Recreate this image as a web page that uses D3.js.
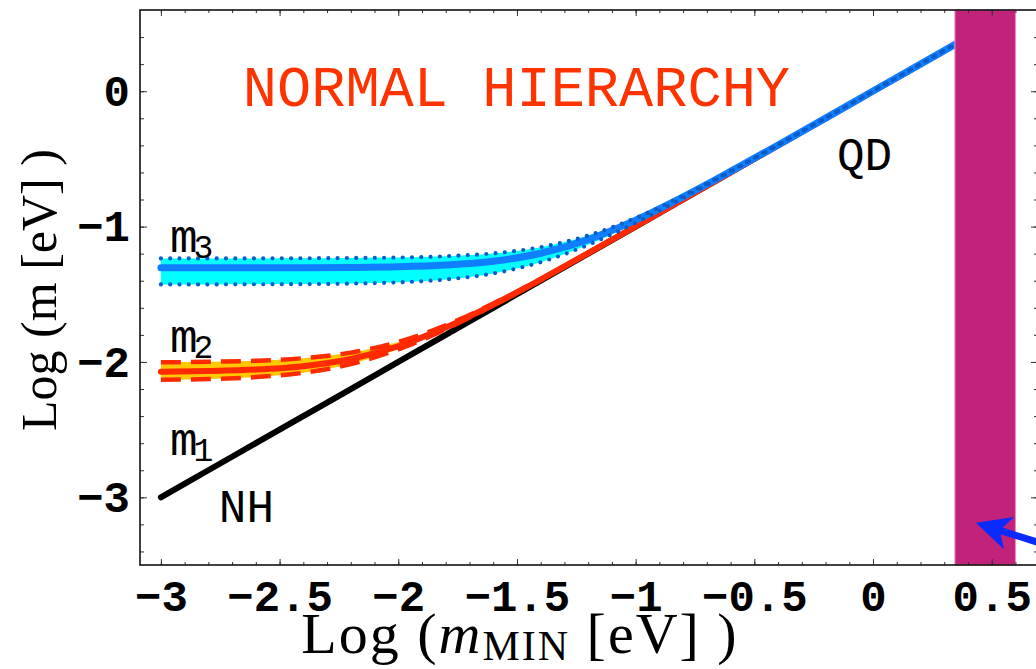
<!DOCTYPE html>
<html>
<head>
<meta charset="utf-8">
<script src="https://cdn.jsdelivr.net/npm/d3@7"></script>
<style>
  body { margin: 0; background: #fff; }
  svg { display: block; }
</style>
</head>
<body>
<svg id="chart" width="1036" height="669"></svg>
<script>
// log10 of the lightest mass (eV), read along the x axis
var mMin = [-3, -2.8, -2.6, -2.4, -2.2, -2.0, -1.8, -1.6, -1.4, -1.2, -1.0, -0.8, -0.6, -0.4, -0.2, 0, 0.2, 0.345];

// log10 of the masses (eV) at those points
var m1   = [-3, -2.8, -2.6, -2.4, -2.2, -2.0, -1.8, -1.6, -1.4, -1.2, -1.0, -0.8, -0.6, -0.4, -0.2, 0, 0.2, 0.345];
var m2   = [-2.072, -2.067, -2.056, -2.031, -1.978, -1.884, -1.746, -1.577, -1.391, -1.196, -0.999, -0.799, -0.600, -0.400, -0.200, 0.000, 0.200, 0.345];
var m2Hi = [-2.003, -1.999, -1.991, -1.972, -1.931, -1.852, -1.729, -1.569, -1.387, -1.195, -0.998, -0.799, -0.600, -0.400, -0.200, 0.000, 0.200, 0.345];
var m2Lo = [-2.132, -2.126, -2.112, -2.080, -2.015, -1.907, -1.758, -1.582, -1.393, -1.197, -0.999, -0.800, -0.600, -0.400, -0.200, 0.000, 0.200, 0.345];
var m3   = [-1.305, -1.305, -1.305, -1.304, -1.302, -1.297, -1.284, -1.256, -1.197, -1.096, -0.952, -0.780, -0.592, -0.397, -0.199, 0.001, 0.200, 0.345];
var m3Hi = [-1.235, -1.235, -1.235, -1.234, -1.232, -1.229, -1.219, -1.198, -1.152, -1.066, -0.937, -0.773, -0.589, -0.395, -0.198, 0.001, 0.200, 0.345];
var m3Lo = [-1.427, -1.427, -1.426, -1.425, -1.421, -1.412, -1.391, -1.346, -1.263, -1.135, -0.972, -0.788, -0.595, -0.398, -0.199, 0.000, 0.200, 0.345];

// excluded region (purple band) in log10 m_MIN
var bandRange = [0.345, 0.6];

// tick labels
var xTickLabels = [-3, -2.5, -2, -1.5, -1, -0.5, 0, 0.5];
var yTickLabels = [0, -1, -2, -3];

// text annotations, placed in data coordinates
var notes = [
  {text: "m", sub: "3", x: -2.962, y: -1.19},
  {text: "m", sub: "2", x: -2.962, y: -1.929},
  {text: "m", sub: "1", x: -2.962, y: -2.69},
  {text: "NH", x: -2.756, y: -3.186},
  {text: "QD", x: -0.152, y: -0.584}
];
var title = {text: "NORMAL HIERARCHY", x: -2.655, y: -0.111};

// blue arrow pointing into the band (tip, tail)
var arrowPts = [{x: 0.433, y: -3.188}, {x: 0.872, y: -3.431}];

var svg = d3.select("#chart");
svg.append("rect").attr("width", 1036).attr("height", 669).attr("fill", "#fff");

var pL = 140, pR = 1038, pT = 10, pB = 565;

var x = d3.scaleLinear().domain([-3.088, 0.695]).range([pL, pR]);
var y = d3.scaleLinear().domain([-3.5, 0.6]).range([pB, pT]);

var mono = "'Liberation Mono', 'Courier New', monospace";
var serif = "'Liberation Serif', 'Times New Roman', serif";

function lineOf(vals) {
  return d3.line()
    .x(function(d, i) { return x(mMin[i]); })
    .y(function(d) { return y(d); })
    .curve(d3.curveMonotoneX)(vals);
}
function bandOf(lo, hi) {
  return d3.area()
    .x(function(d, i) { return x(mMin[i]); })
    .y0(function(d, i) { return y(lo[i]); })
    .y1(function(d, i) { return y(hi[i]); })
    .curve(d3.curveMonotoneX)(mMin);
}

var plot = svg.append("g");

// m1: lightest state
plot.append("path").attr("d", lineOf(m1))
  .attr("fill", "none").attr("stroke", "#000").attr("stroke-width", 6).attr("stroke-linecap", "round");

// m2 band
plot.append("path").attr("d", bandOf(m2Lo, m2Hi)).attr("fill", "#ffc800");
[m2Hi, m2Lo].forEach(function(v) {
  plot.append("path").attr("d", lineOf(v))
    .attr("fill", "none").attr("stroke", "#ff2a00").attr("stroke-width", 4.5)
    .attr("stroke-dasharray", "20,10");
});
plot.append("path").attr("d", lineOf(m2))
  .attr("fill", "none").attr("stroke", "#ff2a00").attr("stroke-width", 6).attr("stroke-linecap", "round");

// m3 band
plot.append("path").attr("d", bandOf(m3Lo, m3Hi)).attr("fill", "#00ffff");
plot.append("path").attr("d", lineOf(m3))
  .attr("fill", "none").attr("stroke", "#0f7fff").attr("stroke-width", 7).attr("stroke-linecap", "round");
[m3Hi, m3Lo].forEach(function(v) {
  plot.append("path").attr("d", lineOf(v))
    .attr("fill", "none").attr("stroke", "#0a5cc8").attr("stroke-width", 4.2)
    .attr("stroke-linecap", "round").attr("stroke-dasharray", "0,9.3");
});

// excluded band
plot.append("rect")
  .attr("x", x(bandRange[0])).attr("y", pT)
  .attr("width", x(bandRange[1]) - x(bandRange[0])).attr("height", pB - pT)
  .attr("fill", "#c2237a").attr("stroke", "#e690c2").attr("stroke-width", 1);

// frame ticks
var xMinor = d3.range(-30, 7).map(function(k) { return k / 10; });
var yMinor = d3.range(-17, 3).map(function(k) { return k / 5; });
var xMajor = xMinor.filter(function(v) { return Math.abs(v * 2 - Math.round(v * 2)) < 1e-6; });
var yMajor = yMinor.filter(function(v) { return Math.abs(v - Math.round(v)) < 1e-6; });

function tickGroup(axis, tx, ty) {
  var g = svg.append("g").attr("transform", "translate(" + tx + "," + ty + ")").call(axis);
  g.select(".domain").remove();
  g.selectAll("line").attr("stroke", "#333").attr("stroke-width", 1);
  return g;
}

tickGroup(d3.axisBottom(x).tickValues(xMinor).tickSize(-3).tickFormat(""), 0, pB);
tickGroup(d3.axisBottom(x).tickValues(xMajor).tickSize(-6).tickFormat(""), 0, pB);
tickGroup(d3.axisTop(x).tickValues(xMinor).tickSize(-3).tickFormat(""), 0, pT);
tickGroup(d3.axisTop(x).tickValues(xMajor).tickSize(-6).tickFormat(""), 0, pT);
tickGroup(d3.axisLeft(y).tickValues(yMinor).tickSize(-4).tickFormat(""), pL, 0);
tickGroup(d3.axisLeft(y).tickValues(yMajor).tickSize(-7).tickFormat(""), pL, 0);
tickGroup(d3.axisRight(y).tickValues(yMinor).tickSize(-4).tickFormat(""), pR, 0);
tickGroup(d3.axisRight(y).tickValues(yMajor).tickSize(-7).tickFormat(""), pR, 0);

// frame
svg.append("rect")
  .attr("x", pL).attr("y", pT).attr("width", pR - pL).attr("height", pB - pT)
  .attr("fill", "none").attr("stroke", "#111").attr("stroke-width", 1.6);

// tick labels (minus sign as in the figure)
var plain = function(d) { return String(d).replace("-", "\u2212"); };
var xl = tickGroup(d3.axisBottom(x).tickValues(xTickLabels).tickSize(0).tickPadding(15).tickFormat(plain), 0, pB);
xl.selectAll("text").attr("font-family", mono).attr("font-weight", "bold")
  .attr("font-size", 44).attr("fill", "#000");

var yl = tickGroup(d3.axisLeft(y).tickValues(yTickLabels).tickSize(0).tickPadding(10).tickFormat(plain), pL, 0);
yl.selectAll("text").attr("font-family", mono).attr("font-weight", "bold")
  .attr("font-size", 44).attr("fill", "#000");

// axis titles
var xt = svg.append("text")
  .attr("x", 520).attr("y", 653)
  .attr("text-anchor", "middle").attr("font-family", serif).attr("font-size", 58)
  .attr("letter-spacing", 2).attr("fill", "#000");
xt.append("tspan").text("Log (");
xt.append("tspan").attr("font-style", "italic").text("m");
xt.append("tspan").attr("font-size", 42).attr("dy", 7).text("MIN");
xt.append("tspan").attr("dy", -7).text(" [eV] )");

svg.append("text")
  .attr("transform", "translate(56,290) rotate(-90)")
  .attr("text-anchor", "middle").attr("font-family", serif).attr("font-size", 50).attr("fill", "#000")
  .text("Log (m [eV] )");

// title inside the plot
svg.append("text")
  .attr("x", x(title.x)).attr("y", y(title.y))
  .attr("font-family", mono).attr("font-size", 57).attr("fill", "#ff3300")
  .text(title.text);

// curve labels
notes.forEach(function(n) {
  var t = svg.append("text")
    .attr("x", x(n.x)).attr("y", y(n.y))
    .attr("font-family", mono).attr("font-size", 46).attr("fill", "#000");
  t.append("tspan").text(n.text);
  if (n.sub) t.append("tspan").attr("font-size", 33).attr("dx", -4).attr("dy", 6).text(n.sub);
});

// arrow
var tip = [x(arrowPts[0].x), y(arrowPts[0].y)];
var tail = [x(arrowPts[1].x), y(arrowPts[1].y)];
var adx = tail[0] - tip[0], ady = tail[1] - tip[1], alen = Math.sqrt(adx * adx + ady * ady);
var ux = adx / alen, uy = ady / alen, nx = -uy, ny = ux;
function pt(a, p) { return [tip[0] + ux * a + nx * p, tip[1] + uy * a + ny * p]; }
var arrowPath = [pt(0, 0), pt(35, -17), pt(27, -3.5), pt(alen, -3.5), pt(alen, 3.5), pt(27, 3.5), pt(35, 17)];
svg.append("path")
  .attr("d", "M" + arrowPath.map(function(p) { return p[0].toFixed(1) + "," + p[1].toFixed(1); }).join("L") + "Z")
  .attr("fill", "#0a2bff");
</script>
</body>
</html>
